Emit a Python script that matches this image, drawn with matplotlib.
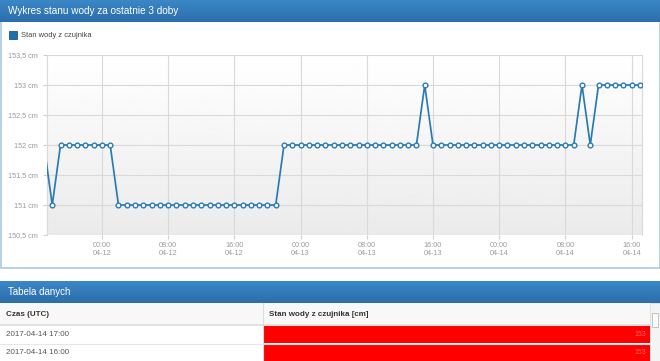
import numpy as np
import pandas as pd
import matplotlib
matplotlib.use("Agg")
import matplotlib.pyplot as plt
import matplotlib.dates as mdates
from matplotlib.patches import Rectangle

plt.rcParams["font.family"] = ["Liberation Sans", "DejaVu Sans"]

# data: hourly sensor readings, 2017-04-11 17:00 .. 2017-04-14 17:00 (UTC)
start_time = "2017-04-11 17:00"
water_level = [
    152, 151, 152, 152, 152, 152, 152,            # 04-11 17:00 - 23:00
    152, 152, 151, 151, 151, 151, 151, 151,       # 04-12 00:00 - 07:00
    151, 151, 151, 151, 151, 151, 151, 151,       # 04-12 08:00 - 15:00
    151, 151, 151, 151, 151, 151, 152, 152,       # 04-12 16:00 - 23:00
    152, 152, 152, 152, 152, 152, 152, 152,       # 04-13 00:00 - 07:00
    152, 152, 152, 152, 152, 152, 152, 153,       # 04-13 08:00 - 15:00
    152, 152, 152, 152, 152, 152, 152, 152,       # 04-13 16:00 - 23:00
    152, 152, 152, 152, 152, 152, 152, 152,       # 04-14 00:00 - 07:00
    152, 152, 153, 152, 153, 153, 153, 153,       # 04-14 08:00 - 15:00
    153, 153,                                     # 04-14 16:00 - 17:00
]
times = pd.date_range(start_time, periods=len(water_level), freq="h")
y_ticks = [150.5, 151, 151.5, 152, 152.5, 153, 153.5]
table_times = ["2017-04-14 17:00", "2017-04-14 16:00"]
table_values = [153, 153]

W, H = 660, 361
fig = plt.figure(figsize=(W / 100, H / 100), dpi=100)

# page layer in pixel coordinates
bg = fig.add_axes([0, 0, 1, 1])
bg.set_xlim(0, W)
bg.set_ylim(H, 0)
bg.axis("off")

t = np.linspace(0, 1, 50).reshape(-1, 1, 1)
top_c = np.array([0.23, 0.53, 0.78])
bot_c = np.array([0.17, 0.43, 0.67])
grad_img = top_c + (bot_c - top_c) * t

# chart panel
bg.add_patch(Rectangle((0.5, 0), W - 1, 268, facecolor="white", edgecolor="#a9c8e0", lw=1.2))
bg.imshow(grad_img, extent=(0, W, 22, 0), origin="upper", aspect="auto", zorder=2)
bg.text(8, 11.5, "Wykres stanu wody za ostatnie 3 doby", color="white", fontsize=7.2,
        va="center", ha="left", zorder=3)

# legend
bg.add_patch(Rectangle((9, 31), 8, 8, facecolor="#1f6fae", edgecolor="#1a5a8c", lw=0.6, zorder=3))
bg.text(21, 35.5, "Stan wody z czujnika", color="#444444", fontsize=5.4, va="center", zorder=3)

# table panel
bg.imshow(grad_img, extent=(0, W, 303, 281), origin="upper", aspect="auto", zorder=2)
bg.text(8, 292, "Tabela danych", color="white", fontsize=7, va="center", zorder=3)
bg.add_patch(Rectangle((0, 303), W, 22, facecolor="#f8f8f8", edgecolor="none", zorder=2))
bg.plot([263, 263], [303, 361], color="#dddddd", lw=0.8, zorder=3)
bg.plot([0, 650], [325, 325], color="#dddddd", lw=1.2, zorder=3)
bg.text(6, 314, "Czas (UTC)", color="#333333", fontsize=5.8, fontweight="bold", va="center", zorder=3)
bg.text(269, 314, "Stan wody z czujnika [cm]", color="#333333", fontsize=5.8, fontweight="bold",
        va="center", zorder=3)
row_top = 325
for tm, v in zip(table_times, table_values):
    bg.add_patch(Rectangle((264, row_top + 0.5), 386, 17.5, facecolor="#ff0000", edgecolor="none", zorder=2))
    bg.plot([0, 650], [row_top + 18.5, row_top + 18.5], color="#e6e6e6", lw=0.8, zorder=3)
    bg.text(6, row_top + 9.5, tm, color="#555555", fontsize=5.8, va="center", zorder=3)
    bg.text(646, row_top + 9.5, str(v), color="#ff6b6b", fontsize=5, va="center", ha="right", zorder=3)
    row_top += 18.5
# scrollbar
bg.add_patch(Rectangle((650, 303), 10, 58, facecolor="#f4f4f4", edgecolor="#dddddd", lw=0.6, zorder=3))
bg.add_patch(Rectangle((652, 313), 6, 14, facecolor="#fafafa", edgecolor="#bbbbbb", lw=0.6, zorder=4))

# chart axes
ax = fig.add_axes([47 / W, 1 - 235 / H, 595 / W, 180 / H])
ax.imshow(np.linspace(1.0, 0.92, 100).reshape(-1, 1), cmap="gray", vmin=0, vmax=1,
          extent=(0, 1, 0, 1), transform=ax.transAxes, aspect="auto", zorder=0)
ax.plot(times, water_level, color="#2b7bb3", lw=1.25, marker="o", markersize=3.4,
        markevery=list(range(1, len(water_level))),
        markerfacecolor="white", markeredgecolor="#2b7bb3", markeredgewidth=1.0, zorder=3,
        clip_on=True)
ax.set_xlim(pd.Timestamp("2017-04-11 17:22"), pd.Timestamp("2017-04-14 17:15"))
ax.set_ylim(150.5, 153.5)
ax.set_yticks(y_ticks)
ax.set_yticklabels([(f"{v:g}".replace(".", ",")) + " cm" for v in y_ticks])
ax.xaxis.set_major_locator(mdates.HourLocator(byhour=[0, 8, 16]))
ax.xaxis.set_major_formatter(mdates.DateFormatter("%H:%M\n%m-%d"))
ax.grid(True, color="#d9d9d9", lw=0.8, zorder=1)
ax.set_axisbelow(True)
for name, s in ax.spines.items():
    if name in ("left", "right"):
        s.set_color("#d9d9d9")
        s.set_linewidth(0.8)
    else:
        s.set_visible(False)
ax.tick_params(axis="both", colors="#d0d0d0", labelcolor="#999999", labelsize=5.2, length=3, width=0.8)
ax.tick_params(axis="x", pad=2)
for lbl in ax.get_xticklabels():
    lbl.set_linespacing(1.3)

fig.savefig("out.png", dpi=100)
